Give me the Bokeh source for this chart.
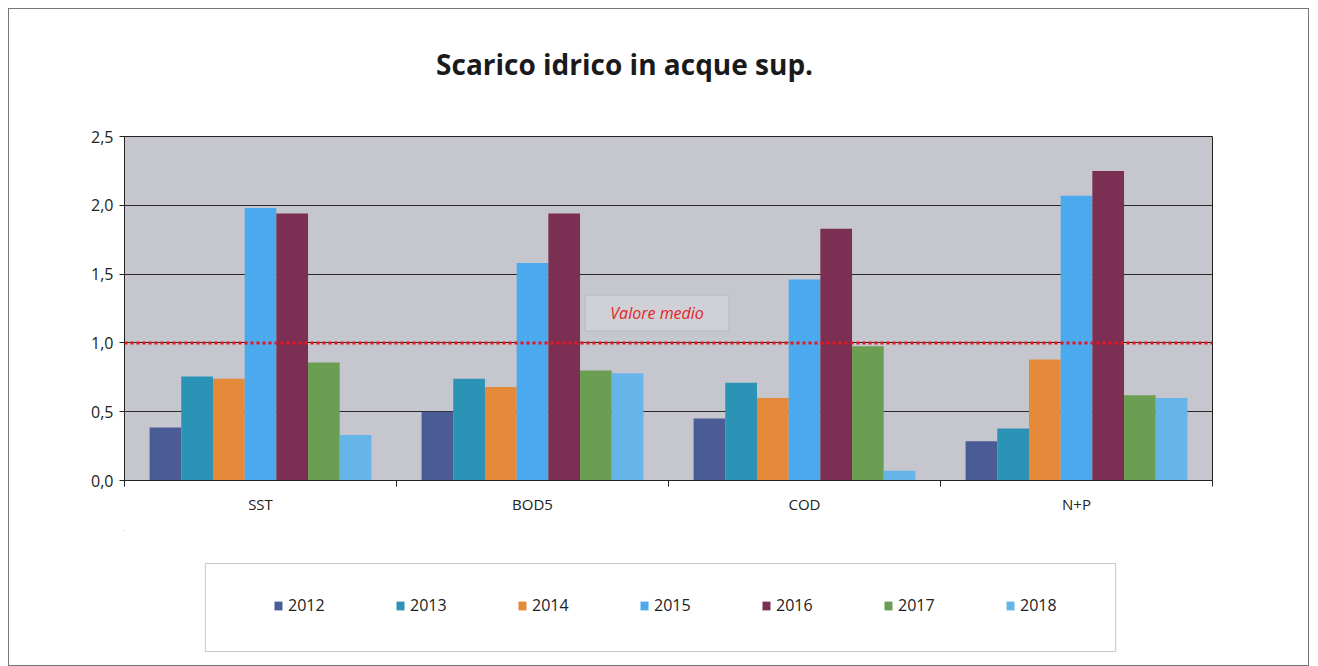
from bokeh.plotting import figure
from bokeh.layouts import column
from bokeh.models import (FactorRange, Range1d, LinearAxis, CategoricalAxis, FixedTicker,
                          Span, Label, Legend, LegendItem, BoxAnnotation, ColumnDataSource)
from bokeh.transform import dodge
from bokeh.embed import file_html
from bokeh.resources import INLINE

# ---------------- data ----------------
categories = ["SST", "BOD5", "COD", "N+P"]
years = ["2012", "2013", "2014", "2015", "2016", "2017", "2018"]
v2012 = [0.385, 0.50, 0.45, 0.285]
v2013 = [0.756, 0.74, 0.71, 0.377]
v2014 = [0.74, 0.68, 0.60, 0.88]
v2015 = [1.98, 1.58, 1.46, 2.07]
v2016 = [1.94, 1.94, 1.83, 2.25]
v2017 = [0.857, 0.80, 0.975, 0.62]
v2018 = [0.33, 0.78, 0.07, 0.60]
mean_value = 1.0
y_ticks = [0, 0.5, 1.0, 1.5, 2.0, 2.5]
y_tick_labels = ["0,0", "0,5", "1,0", "1,5", "2,0", "2,5"]
title_text = "Scarico idrico in acque sup."
mean_label = "Valore medio"

series = [v2012, v2013, v2014, v2015, v2016, v2017, v2018]
colors = ["#4A5C96", "#2A93B6", "#E5893A", "#4BA9EE", "#7B2F52", "#6B9E52", "#66B5E8"]

FONT = "Open Sans"
W, BL, BR = 1301, 115, 96          # shared width and side borders -> frame x 124..1214

src = ColumnDataSource(dict(cat=categories, **{y: s for y, s in zip(years, series)}))

def blank(fig):
    fig.grid.visible = False
    fig.outline_line_color = None
    fig.background_fill_color = "white"
    fig.border_fill_color = "white"

# ---------------- title strip ----------------
p0 = figure(width=W, height=100, x_range=Range1d(124, 1214), y_range=Range1d(109, 9),
            output_backend="svg", toolbar_location=None, x_axis_location=None,
            y_axis_location=None, min_border_left=BL, min_border_right=BR,
            min_border_top=0, min_border_bottom=0, title=None)
blank(p0)
p0.add_layout(Label(x=625, y=63, text=title_text, text_align="center", text_baseline="middle",
                    text_font=FONT, text_font_size="28px", text_font_style="bold",
                    text_color="#1a1a1a"))

# ---------------- chart ----------------
p = figure(width=W, height=421, x_range=FactorRange(*categories, range_padding=0),
           y_range=Range1d(0, 2.5), output_backend="svg", toolbar_location=None,
           x_axis_location=None, min_border_left=BL, min_border_right=BR,
           min_border_top=27, min_border_bottom=50, title=None)

p.background_fill_color = "#C6C7CE"
p.border_fill_color = "white"
p.outline_line_color = "#222222"
p.outline_line_width = 1

bw = 0.1165
renderers = []
for i, (y, c) in enumerate(zip(years, colors)):
    r = p.vbar(x=dodge("cat", (i - 3) * bw, range=p.x_range), top=y, width=bw, source=src,
               fill_color=c, line_color=None)
    renderers.append(r)

ya = p.yaxis[0]
ya.ticker = FixedTicker(ticks=y_ticks)
ya.major_label_overrides = {t_: l for t_, l in zip(y_ticks, y_tick_labels)}
ya.axis_line_color = "#222222"
ya.major_tick_line_color = "#222222"
ya.major_tick_in = 0
ya.major_tick_out = 5
ya.minor_tick_line_color = None
ya.major_label_text_font = FONT
ya.major_label_text_font_size = "16px"
ya.major_label_text_color = "#222222"
ya.major_label_standoff = 6

p.ygrid.ticker = FixedTicker(ticks=y_ticks)
p.ygrid.grid_line_color = "#2a2a2a"
p.ygrid.grid_line_width = 1
p.xgrid.grid_line_color = None

# boundary ticks between categories (synthetic coordinates of the factor range)
tick_axis = LinearAxis(ticker=FixedTicker(ticks=[0, 1, 2, 3, 4]),
                       major_tick_in=0, major_tick_out=6, minor_tick_line_color=None,
                       major_label_text_font_size="1px", major_label_text_color=None,
                       major_label_standoff=0,
                       axis_line_color="#222222", major_tick_line_color="#222222")
p.add_layout(tick_axis, "below")
cat_axis = CategoricalAxis(major_tick_line_color=None, axis_line_color=None,
                           major_label_text_font=FONT, major_label_text_font_size="15px",
                           major_label_text_color="#222222", major_label_standoff=1)
p.add_layout(cat_axis, "below")

p.add_layout(Span(location=mean_value, dimension="width", line_color="#E8141E",
                  line_width=3, line_dash="3 3"))
p.add_layout(Label(x=1.958, y=1.217, text=mean_label,
                   text_align="center", text_baseline="middle", text_font=FONT,
                   text_font_style="italic", text_font_size="16px", text_color="#E3242B",
                   background_fill_color="#D0D1D7", border_line_color="#B8B9C1",
                   padding=dict(left=25, right=25, top=7, bottom=7)))

# ---------------- legend strip ----------------
p2 = figure(width=W, height=135, x_range=Range1d(124, 1214), y_range=Range1d(665, 530),
            output_backend="svg", toolbar_location=None, x_axis_location=None,
            y_axis_location=None, min_border_left=BL, min_border_right=BR,
            min_border_top=0, min_border_bottom=0, title=None)
blank(p2)
p2.add_layout(BoxAnnotation(left=205, right=1117, top=563, bottom=651, fill_color=None,
                            line_color="#444444", line_width=1))

# legend proxies (one row placed outside the visible range, only their colours are used)
proxy_src = ColumnDataSource(dict(x=[0.0], top=[0.0]))
proxies = [p2.vbar(x="x", top="top", width=1, source=proxy_src, fill_color=c, line_color=None)
           for c in colors]
legend = Legend(items=[LegendItem(label=y, renderers=[r]) for y, r in zip(years, proxies)],
                orientation="horizontal", location=(149, 49), border_line_color=None,
                background_fill_alpha=0, glyph_width=10, glyph_height=11, label_standoff=5,
                label_width=40, spacing=67, label_text_font=FONT, label_text_font_size="16px",
                label_text_color="#222222", padding=0, margin=0)
p2.add_layout(legend)

layout = column(p0, p, p2, width=W,
                styles={"border": "1px solid #777777", "margin-left": "8px", "margin-top": "8px"})

open("out.html", "w").write(file_html(layout, INLINE))
